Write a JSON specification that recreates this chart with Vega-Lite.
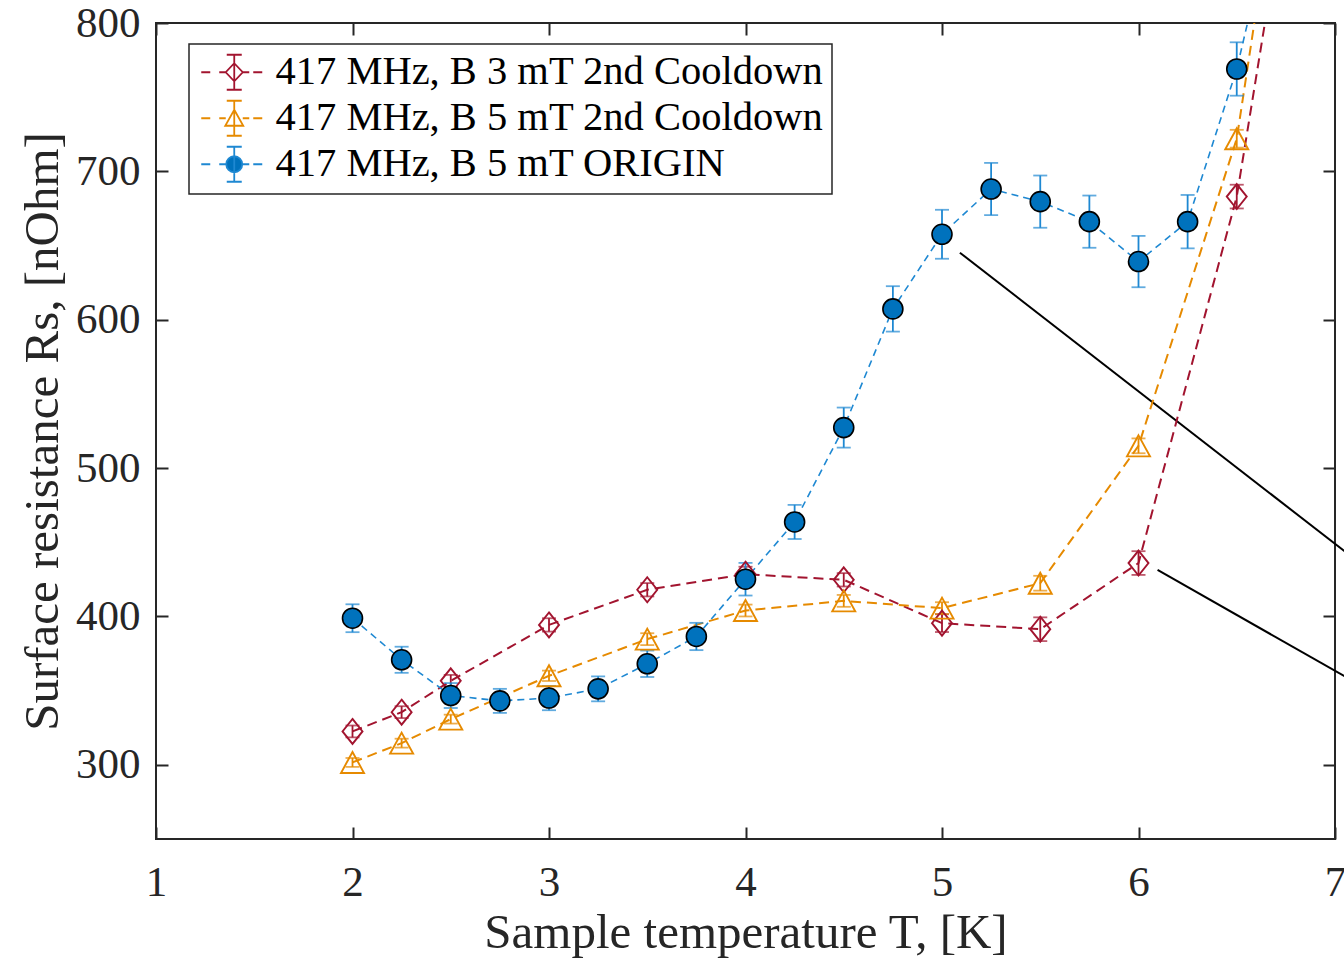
{
  "$schema": "https://vega.github.io/schema/vega-lite/v6.json",
  "width": 1179,
  "height": 816,
  "autosize": {"type": "none"},
  "padding": {"left": 156, "top": 23, "right": 9, "bottom": 123},
  "background": "white",
  "datasets": {
    "meas": [
      {"series": "417 MHz, B 3 mT 2nd Cooldown", "T": 2, "R": 322.5, "err": 4},
      {"series": "417 MHz, B 3 mT 2nd Cooldown", "T": 2.25, "R": 335.5, "err": 4},
      {"series": "417 MHz, B 3 mT 2nd Cooldown", "T": 2.5, "R": 356.6, "err": 4},
      {"series": "417 MHz, B 3 mT 2nd Cooldown", "T": 3, "R": 394.3, "err": 4.5},
      {"series": "417 MHz, B 3 mT 2nd Cooldown", "T": 3.5, "R": 418, "err": 4.5},
      {"series": "417 MHz, B 3 mT 2nd Cooldown", "T": 4, "R": 428.5, "err": 5},
      {"series": "417 MHz, B 3 mT 2nd Cooldown", "T": 4.5, "R": 424.7, "err": 4.5},
      {"series": "417 MHz, B 3 mT 2nd Cooldown", "T": 5, "R": 395.5, "err": 6},
      {"series": "417 MHz, B 3 mT 2nd Cooldown", "T": 5.5, "R": 391.4, "err": 8},
      {"series": "417 MHz, B 3 mT 2nd Cooldown", "T": 6, "R": 436, "err": 8},
      {"series": "417 MHz, B 3 mT 2nd Cooldown", "T": 6.5, "R": 683, "err": 8},
      {"series": "417 MHz, B 3 mT 2nd Cooldown", "T": 6.75, "R": 887, "err": 8},
      {"series": "417 MHz, B 5 mT 2nd Cooldown", "T": 2, "R": 301.6, "err": 3},
      {"series": "417 MHz, B 5 mT 2nd Cooldown", "T": 2.25, "R": 314.6, "err": 3},
      {"series": "417 MHz, B 5 mT 2nd Cooldown", "T": 2.5, "R": 330.8, "err": 3},
      {"series": "417 MHz, B 5 mT 2nd Cooldown", "T": 3, "R": 360, "err": 3.5},
      {"series": "417 MHz, B 5 mT 2nd Cooldown", "T": 3.5, "R": 384.7, "err": 4},
      {"series": "417 MHz, B 5 mT 2nd Cooldown", "T": 4, "R": 404, "err": 4},
      {"series": "417 MHz, B 5 mT 2nd Cooldown", "T": 4.5, "R": 410.5, "err": 4},
      {"series": "417 MHz, B 5 mT 2nd Cooldown", "T": 5, "R": 405.6, "err": 4},
      {"series": "417 MHz, B 5 mT 2nd Cooldown", "T": 5.5, "R": 422.4, "err": 5},
      {"series": "417 MHz, B 5 mT 2nd Cooldown", "T": 6, "R": 515, "err": 5},
      {"series": "417 MHz, B 5 mT 2nd Cooldown", "T": 6.5, "R": 722, "err": 6},
      {"series": "417 MHz, B 5 mT 2nd Cooldown", "T": 6.75, "R": 940, "err": 6},
      {"series": "417 MHz, B 5 mT ORIGIN", "T": 2, "R": 398.8, "err": 9.4},
      {"series": "417 MHz, B 5 mT ORIGIN", "T": 2.25, "R": 370.8, "err": 8.8},
      {"series": "417 MHz, B 5 mT ORIGIN", "T": 2.5, "R": 346.7, "err": 8.4},
      {"series": "417 MHz, B 5 mT ORIGIN", "T": 2.75, "R": 343.1, "err": 8.1},
      {"series": "417 MHz, B 5 mT ORIGIN", "T": 3, "R": 345, "err": 8.2},
      {"series": "417 MHz, B 5 mT ORIGIN", "T": 3.25, "R": 351.2, "err": 8.4},
      {"series": "417 MHz, B 5 mT ORIGIN", "T": 3.5, "R": 368.1, "err": 8.9},
      {"series": "417 MHz, B 5 mT ORIGIN", "T": 3.75, "R": 386.5, "err": 9.2},
      {"series": "417 MHz, B 5 mT ORIGIN", "T": 4, "R": 425.1, "err": 11},
      {"series": "417 MHz, B 5 mT ORIGIN", "T": 4.25, "R": 463.7, "err": 11.5},
      {"series": "417 MHz, B 5 mT ORIGIN", "T": 4.5, "R": 527.3, "err": 13.5},
      {"series": "417 MHz, B 5 mT ORIGIN", "T": 4.75, "R": 607.3, "err": 15.3},
      {"series": "417 MHz, B 5 mT ORIGIN", "T": 5, "R": 657.6, "err": 16.5},
      {"series": "417 MHz, B 5 mT ORIGIN", "T": 5.25, "R": 688.1, "err": 17.6},
      {"series": "417 MHz, B 5 mT ORIGIN", "T": 5.5, "R": 679.6, "err": 17.6},
      {"series": "417 MHz, B 5 mT ORIGIN", "T": 5.75, "R": 666.1, "err": 17.6},
      {"series": "417 MHz, B 5 mT ORIGIN", "T": 6, "R": 639.2, "err": 17.3},
      {"series": "417 MHz, B 5 mT ORIGIN", "T": 6.25, "R": 666.1, "err": 18},
      {"series": "417 MHz, B 5 mT ORIGIN", "T": 6.5, "R": 769, "err": 18},
      {"series": "417 MHz, B 5 mT ORIGIN", "T": 6.75, "R": 910, "err": 18}
    ],
    "notes": [
      {"x1": 5.091, "y1": 645.2, "x2": 7.051, "y2": 443.7},
      {"x1": 6.097, "y1": 431.4, "x2": 7.051, "y2": 359.5}
    ]
  },
  "config": {
    "font": "Liberation Serif",
    "view": {"stroke": "#262626", "strokeWidth": 2},
    "axis": {
      "labelFont": "Liberation Serif",
      "labelFontSize": 43,
      "labelColor": "#262626",
      "titleFont": "Liberation Serif",
      "titleFontSize": 49,
      "titleFontWeight": "normal",
      "titleColor": "#262626",
      "grid": false,
      "domain": false,
      "tickColor": "#262626",
      "tickWidth": 2,
      "tickSize": -12,
      "labelFlush": false,
      "labelOverlap": false
    }
  },
  "resolve": {"axis": {"x": "independent", "y": "independent"}},
  "layer": [
    {
      "data": {"name": "notes"},
      "mark": {"type": "rule", "color": "black", "strokeWidth": 2, "clip": false},
      "encoding": {
        "x": {"field": "x1", "type": "quantitative", "scale": {"domain": [1, 7], "nice": false, "zero": false},
              "axis": {"orient": "top", "labels": false, "title": null, "values": [1, 2, 3, 4, 5, 6, 7]}},
        "y": {"field": "y1", "type": "quantitative", "scale": {"domain": [250, 800], "nice": false, "zero": false},
              "axis": {"orient": "right", "labels": false, "title": null, "values": [300, 400, 500, 600, 700, 800]}},
        "x2": {"field": "x2"},
        "y2": {"field": "y2"}
      }
    },
    {
      "data": {"name": "meas"},
      "transform": [{"filter": "datum.series === '417 MHz, B 3 mT 2nd Cooldown'"}],
      "mark": {"type": "line", "clip": true, "strokeDash": [10, 6], "strokeWidth": 2},
      "encoding": {
        "x": {"field": "T", "type": "quantitative",
              "axis": {"orient": "bottom", "title": "Sample temperature T, [K]", "values": [1, 2, 3, 4, 5, 6, 7], "labelPadding": 34, "titlePadding": 4}},
        "y": {"field": "R", "type": "quantitative",
              "axis": {"orient": "left", "title": "Surface resistance Rs, [nOhm]", "values": [300, 400, 500, 600, 700, 800], "labelPadding": 28, "titlePadding": 8}},
        "color": {
          "field": "series", "type": "nominal",
          "scale": {"domain": ["417 MHz, B 3 mT 2nd Cooldown", "417 MHz, B 5 mT 2nd Cooldown", "417 MHz, B 5 mT ORIGIN"],
                    "range": ["#A2142F", "#E68A00", "#1E88D2"]},
          "legend": {
            "orient": "none", "legendX": 33, "legendY": 21, "title": null,
            "strokeColor": "#262626", "fillColor": "white", "padding": 8,
            "labelFont": "Liberation Serif", "labelFontSize": 40.5, "labelColor": "black", "labelLimit": 2000,
            "symbolSize": 400, "symbolOffset": 17, "labelOffset": 21, "rowPadding": 3,
            "encode": {
              "legend": {"update": {"strokeWidth": {"value": 1.5}}},
              "symbols": {"update": {
                "shape": {"signal": "datum.value === '417 MHz, B 5 mT ORIGIN' ? 'M-3.3,0H-2.4M-1.5,0H-0.8M0.8,0H1.5M1.9,0H2.8M0,-1.75V1.75M-0.75,-1.75H0.75M-0.75,1.75H0.75M0.8,0A0.8,0.8,0,1,1,-0.8,0A0.8,0.8,0,1,1,0.8,0Z' : (datum.value === '417 MHz, B 3 mT 2nd Cooldown' ? 'M-3.3,0H-2.4M-1.5,0H-0.85M0.85,0H1.5M1.9,0H2.8M0,-1.75V1.75M-0.75,-1.75H0.75M-0.75,1.75H0.75M0,-0.9L0.85,0L0,0.9L-0.85,0Z' : 'M-3.3,0H-2.4M-1.5,0H-0.85M0.85,0H1.5M1.9,0H2.8M0,-1.75V1.75M-0.75,-1.75H0.75M-0.75,1.75H0.75M0,-0.85L0.9,0.75L-0.9,0.75Z')"},
                "fill": {"signal": "datum.value === '417 MHz, B 5 mT ORIGIN' ? '#0072BD' : 'transparent'"},
                "strokeWidth": {"value": 1.8},
                "opacity": {"value": 1}
              }}
            }
          }
        }
      }
    },
    {
      "data": {"name": "meas"},
      "transform": [{"filter": "datum.series === '417 MHz, B 5 mT 2nd Cooldown'"}],
      "mark": {"type": "line", "clip": true, "strokeDash": [10, 6], "strokeWidth": 2, "color": "#E68A00"},
      "encoding": {
        "x": {"field": "T", "type": "quantitative", "axis": null},
        "y": {"field": "R", "type": "quantitative", "axis": null}
      }
    },
    {
      "data": {"name": "meas"},
      "transform": [{"filter": "datum.series === '417 MHz, B 5 mT ORIGIN'"}],
      "mark": {"type": "line", "clip": true, "strokeDash": [7, 5], "strokeWidth": 1.6, "color": "#1E88D2"},
      "encoding": {
        "x": {"field": "T", "type": "quantitative", "axis": null},
        "y": {"field": "R", "type": "quantitative", "axis": null}
      }
    },
    {
      "data": {"name": "meas"},
      "transform": [{"filter": "datum.T <= 6.5 && datum.series === '417 MHz, B 3 mT 2nd Cooldown'"}],
      "mark": {"type": "errorbar", "ticks": true, "size": 14, "thickness": 1.8, "color": "#A2142F"},
      "encoding": {
        "x": {"field": "T", "type": "quantitative", "axis": null},
        "y": {"field": "R", "type": "quantitative", "axis": null},
        "yError": {"field": "err"}
      }
    },
    {
      "data": {"name": "meas"},
      "transform": [{"filter": "datum.T <= 6.5 && datum.series === '417 MHz, B 5 mT 2nd Cooldown'"}],
      "mark": {"type": "errorbar", "ticks": true, "size": 14, "thickness": 1.8, "color": "#E68A00"},
      "encoding": {
        "x": {"field": "T", "type": "quantitative", "axis": null},
        "y": {"field": "R", "type": "quantitative", "axis": null},
        "yError": {"field": "err"}
      }
    },
    {
      "data": {"name": "meas"},
      "transform": [{"filter": "datum.T <= 6.5 && datum.series === '417 MHz, B 5 mT ORIGIN'"}],
      "mark": {"type": "errorbar", "ticks": true, "size": 14, "thickness": 1.8, "color": "#1E88D2"},
      "encoding": {
        "x": {"field": "T", "type": "quantitative", "axis": null},
        "y": {"field": "R", "type": "quantitative", "axis": null},
        "yError": {"field": "err"}
      }
    },
    {
      "data": {"name": "meas"},
      "transform": [{"filter": "datum.T <= 6.5 && datum.series === '417 MHz, B 3 mT 2nd Cooldown'"}],
      "mark": {"type": "point", "shape": "M0,-1.25L1,0L0,1.25L-1,0Z", "size": 400, "strokeWidth": 1.9, "opacity": 1, "filled": false, "stroke": "#A2142F", "fill": "transparent"},
      "encoding": {
        "x": {"field": "T", "type": "quantitative", "axis": null},
        "y": {"field": "R", "type": "quantitative", "axis": null}
      }
    },
    {
      "data": {"name": "meas"},
      "transform": [{"filter": "datum.T <= 6.5 && datum.series === '417 MHz, B 5 mT 2nd Cooldown'"}],
      "mark": {"type": "point", "shape": "M0,-1.05L1.15,1.05L-1.15,1.05Z", "size": 400, "strokeWidth": 1.9, "opacity": 1, "filled": false, "stroke": "#E68A00", "fill": "transparent"},
      "encoding": {
        "x": {"field": "T", "type": "quantitative", "axis": null},
        "y": {"field": "R", "type": "quantitative", "axis": null}
      }
    },
    {
      "data": {"name": "meas"},
      "transform": [{"filter": "datum.T <= 6.5 && datum.series === '417 MHz, B 5 mT ORIGIN'"}],
      "mark": {"type": "point", "shape": "circle", "size": 400, "strokeWidth": 1.6, "opacity": 1, "filled": true, "stroke": "#000000", "fill": "#0072BD"},
      "encoding": {
        "x": {"field": "T", "type": "quantitative", "axis": null},
        "y": {"field": "R", "type": "quantitative", "axis": null}
      }
    }
  ]
}
